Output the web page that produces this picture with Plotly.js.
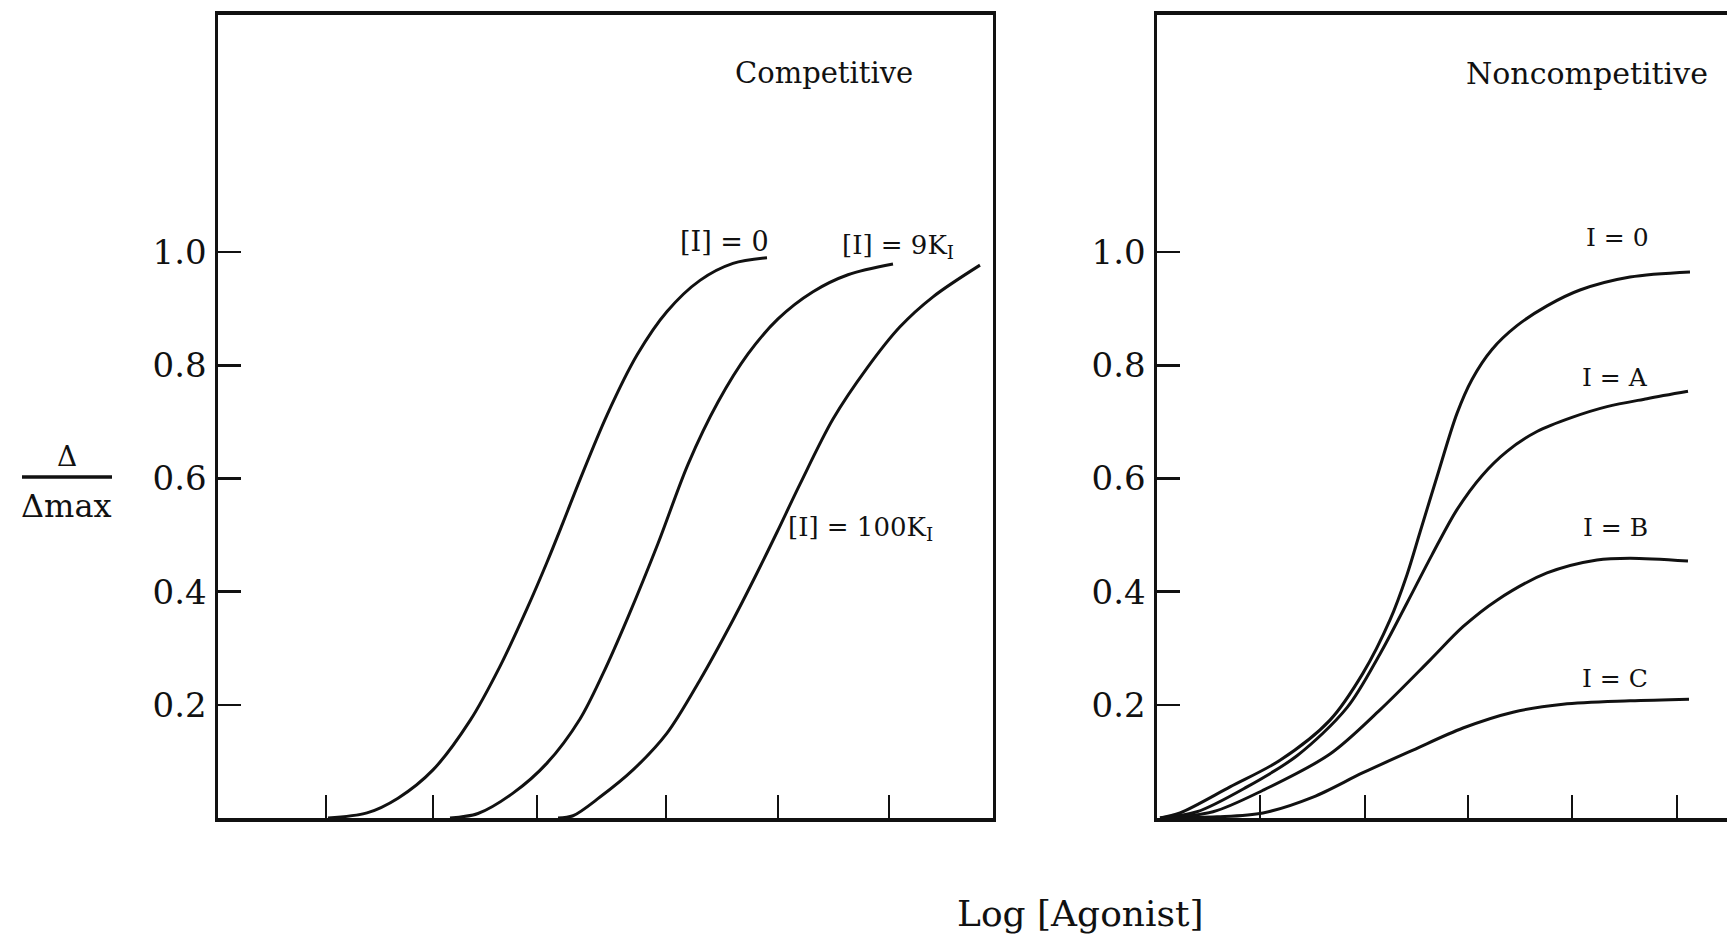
<!DOCTYPE html>
<html>
<head>
<meta charset="utf-8">
<script src="https://cdn.plot.ly/plotly-3.0.1.min.js"></script>
<style>html,body{margin:0;padding:0;background:#fff;}</style>
</head>
<body>
<div id="chart" style="width:1729px;height:940px;"></div>
<script>
// ---- Data (x in arbitrary log-agonist units) ----
// Competitive panel
const compI0_x   = [1.10, 1.49, 1.80, 2.15, 2.52, 2.82, 3.09, 3.29, 3.45, 3.62, 3.89, 4.19, 4.49, 4.82, 5.15, 5.49];
const compI0_y   = [0.000, 0.009, 0.035, 0.085, 0.172, 0.268, 0.370, 0.452, 0.522, 0.598, 0.712, 0.818, 0.895, 0.950, 0.980, 0.990];
const compI9_x   = [2.32, 2.60, 2.95, 3.29, 3.62, 3.85, 4.10, 4.40, 4.70, 5.00, 5.30, 5.60, 5.95, 6.30, 6.75];
const compI9_y   = [0.000, 0.008, 0.044, 0.097, 0.175, 0.255, 0.355, 0.485, 0.625, 0.735, 0.820, 0.882, 0.930, 0.960, 0.979];
const compI100_x = [3.40, 3.55, 3.82, 4.15, 4.49, 4.82, 5.15, 5.39, 5.59, 5.82, 6.15, 6.49, 6.82, 7.15, 7.62];
const compI100_y = [0.000, 0.004, 0.037, 0.085, 0.150, 0.244, 0.350, 0.433, 0.505, 0.590, 0.705, 0.795, 0.868, 0.921, 0.977];
const compTicks  = [1.08, 2.15, 3.19, 4.48, 5.60, 6.71];

// Noncompetitive panel
const ncI0_x = [0.03, 0.23, 0.73, 1.23, 1.73, 2.06, 2.33, 2.50, 2.63, 2.80, 3.00, 3.15, 3.35, 3.60, 3.90, 4.23, 4.73, 5.33];
const ncI0_y = [0.000, 0.009, 0.055, 0.102, 0.173, 0.256, 0.350, 0.430, 0.505, 0.603, 0.715, 0.775, 0.828, 0.870, 0.905, 0.933, 0.956, 0.965];
const ncIA_x = [0.03, 0.40, 0.90, 1.40, 1.90, 2.23, 2.50, 2.75, 3.00, 3.25, 3.50, 3.80, 4.15, 4.50, 4.90, 5.31];
const ncIA_y = [0.000, 0.011, 0.055, 0.110, 0.195, 0.290, 0.380, 0.465, 0.545, 0.605, 0.648, 0.683, 0.708, 0.727, 0.741, 0.754];
const ncIB_x = [0.08, 0.56, 1.06, 1.73, 2.23, 2.73, 3.06, 3.40, 3.90, 4.40, 4.73, 5.31];
const ncIB_y = [0.000, 0.011, 0.049, 0.113, 0.191, 0.279, 0.338, 0.385, 0.433, 0.456, 0.459, 0.454];
const ncIC_x = [0.08, 0.60, 1.06, 1.56, 2.06, 2.56, 3.06, 3.56, 4.06, 4.73, 5.32];
const ncIC_y = [0.000, 0.002, 0.009, 0.037, 0.080, 0.120, 0.159, 0.187, 0.201, 0.207, 0.210];
const ncTicks = [1.03, 2.08, 3.11, 4.15, 5.20];

const yTickVals = [0.2, 0.4, 0.6, 0.8, 1.0];
const yTickText = ["0.2", "0.4", "0.6", "0.8", "1.0"];

// ---- Styling ----
const FONT = "DejaVu Serif, Liberation Serif, serif";
const INK = "#111";
const lineStyle = {color: INK, width: 3, shape: "spline", smoothing: 0.9};

function curve(x, y, xa, ya) {
  return {x: x, y: y, xaxis: xa, yaxis: ya, type: "scatter", mode: "lines",
          line: lineStyle, hoverinfo: "skip", showlegend: false};
}

const traces = [
  curve(compI0_x, compI0_y, "x", "y"),
  curve(compI9_x, compI9_y, "x", "y"),
  curve(compI100_x, compI100_y, "x", "y"),
  curve(ncI0_x, ncI0_y, "x2", "y2"),
  curve(ncIA_x, ncIA_y, "x2", "y2"),
  curve(ncIB_x, ncIB_y, "x2", "y2"),
  curve(ncIC_x, ncIC_y, "x2", "y2")
];

const xCommon = {
  showgrid: false, zeroline: false, showline: true, linecolor: INK, linewidth: 4,
  mirror: true, ticks: "inside", ticklen: 23, tickwidth: 2.2, tickcolor: INK,
  tickmode: "array", showticklabels: false, fixedrange: true
};
const yCommon = {
  range: [0, 1.419], showgrid: false, zeroline: false, showline: true, linecolor: INK,
  linewidth: 2.6, ticks: "inside", ticklen: 23, tickwidth: 2.6, tickcolor: INK,
  tickmode: "array", tickvals: yTickVals, ticktext: yTickText,
  tickfont: {family: FONT, size: 34, color: INK}, ticklabelstandoff: 2, fixedrange: true
};

const L = 218, R = 2, T = 15, B = 122, W = 1729, H = 940;
const PW = W - L - R, PH = H - T - B;
const px2paperX = p => (p - L) / PW;
const px2paperY = p => (H - B - p) / PH;

const layout = {
  width: W, height: H, autosize: false,
  margin: {l: L, r: R, t: T, b: B},
  paper_bgcolor: "#fff", plot_bgcolor: "#fff",
  showlegend: false,
  xaxis: Object.assign({}, xCommon, {domain: [0, px2paperX(993)], range: [0, 7.75], tickvals: compTicks, anchor: "y"}),
  yaxis: Object.assign({}, yCommon, {domain: [0, 1], anchor: "x", mirror: true}),
  xaxis2: Object.assign({}, xCommon, {domain: [px2paperX(1157), 1], range: [0, 5.70], tickvals: ncTicks, anchor: "y2"}),
  yaxis2: Object.assign({}, yCommon, {domain: [0, 1], anchor: "x2", mirror: false}),
  shapes: [
    {type: "line", xref: "paper", yref: "paper",
     x0: px2paperX(22), x1: px2paperX(112), y0: px2paperY(477), y1: px2paperY(477),
     line: {color: INK, width: 3.5}}
  ],
  annotations: [
    {text: "Competitive", xref: "x", yref: "y", x: 6.06, y: 1.316, showarrow: false,
     xanchor: "center", yanchor: "middle", font: {family: FONT, size: 29, color: INK}},
    {text: "[I] = 0", xref: "x", yref: "y", x: 5.06, y: 1.019, showarrow: false,
     xanchor: "center", yanchor: "middle", font: {family: FONT, size: 27, color: INK}},
    {text: "[I] = 9K<sub>I</sub>", xref: "x", yref: "y", x: 6.22, y: 1.010, showarrow: false,
     xanchor: "left", yanchor: "middle", font: {family: FONT, size: 26, color: INK}},
    {text: "[I] = 100K<sub>I</sub>", xref: "x", yref: "y", x: 5.68, y: 0.512, showarrow: false,
     xanchor: "left", yanchor: "middle", font: {family: FONT, size: 26, color: INK}},
    {text: "Noncompetitive", xref: "x2", yref: "y2", x: 4.30, y: 1.316, showarrow: false,
     xanchor: "center", yanchor: "middle", font: {family: FONT, size: 30, color: INK}},
    {text: "I = 0", xref: "x2", yref: "y2", x: 4.60, y: 1.025, showarrow: false,
     xanchor: "center", yanchor: "middle", font: {family: FONT, size: 25, color: INK}},
    {text: "I = A", xref: "x2", yref: "y2", x: 4.58, y: 0.779, showarrow: false,
     xanchor: "center", yanchor: "middle", font: {family: FONT, size: 25, color: INK}},
    {text: "I = B", xref: "x2", yref: "y2", x: 4.58, y: 0.514, showarrow: false,
     xanchor: "center", yanchor: "middle", font: {family: FONT, size: 25, color: INK}},
    {text: "I = C", xref: "x2", yref: "y2", x: 4.58, y: 0.247, showarrow: false,
     xanchor: "center", yanchor: "middle", font: {family: FONT, size: 25, color: INK}},
    {text: "Δ", xref: "paper", yref: "paper", x: px2paperX(67), y: px2paperY(456), showarrow: false,
     xanchor: "center", yanchor: "middle", font: {family: FONT, size: 28, color: INK}},
    {text: "Δmax", xref: "paper", yref: "paper", x: px2paperX(66), y: px2paperY(506), showarrow: false,
     xanchor: "center", yanchor: "middle", font: {family: FONT, size: 32, color: INK}},
    {text: "Log [Agonist]", xref: "paper", yref: "paper", x: px2paperX(1080), y: px2paperY(913), showarrow: false,
     xanchor: "center", yanchor: "middle", font: {family: FONT, size: 36, color: INK}}
  ]
};

Plotly.newPlot("chart", traces, layout, {displayModeBar: false, staticPlot: true});
</script>
</body>
</html>
